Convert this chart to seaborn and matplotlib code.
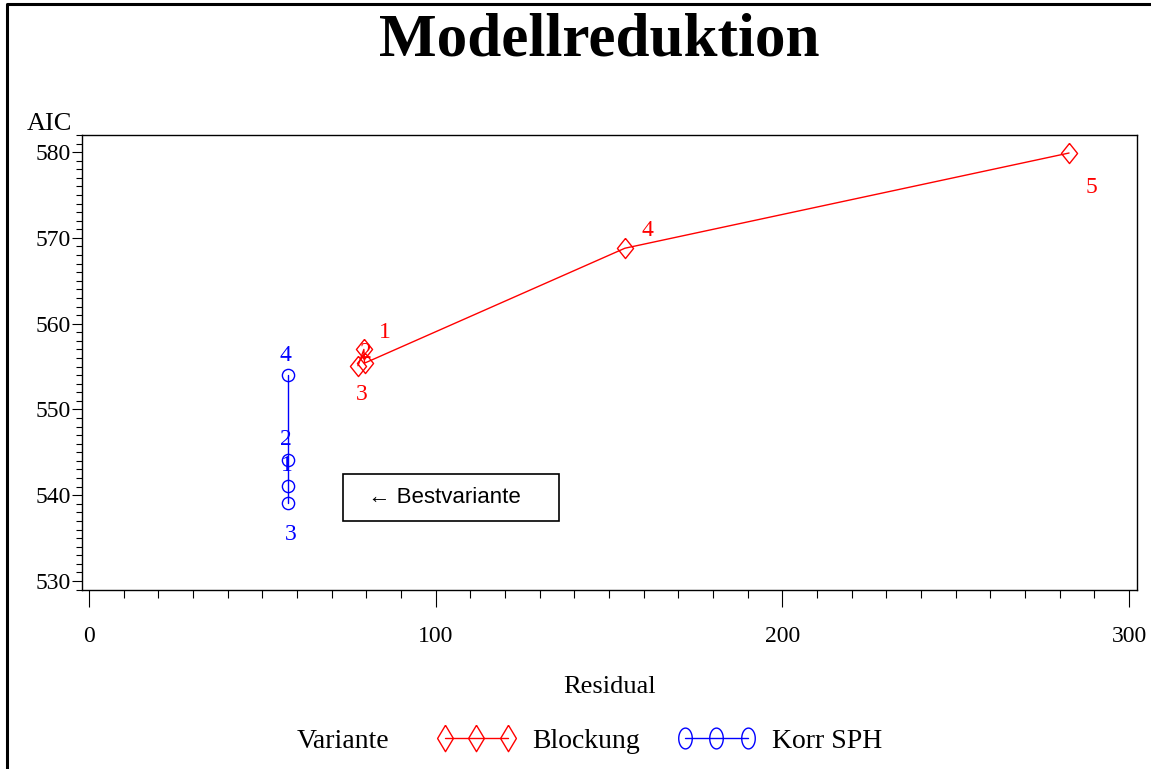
import numpy as np
import pandas as pd
import matplotlib
matplotlib.use("Agg")
import matplotlib.pyplot as plt
import seaborn as sns
from matplotlib.lines import Line2D
from matplotlib.ticker import MultipleLocator

# ---------------- data ----------------
title = "Modellreduktion"
legend_title = "Variante"
series_names = ["Blockung", "Korr SPH"]
block_labels = ["1", "2", "3", "4", "5"]
block_residual = [79.3, 79.5, 77.6, 154.6, 282.7]
block_aic = [557.0, 555.4, 555.1, 568.8, 579.9]
korr_labels = ["1", "2", "3", "4"]
korr_residual = [57.4, 57.4, 57.4, 57.4]
korr_aic = [541.1, 544.1, 539.1, 554.0]
x_ticks = [0, 100, 200, 300]
y_ticks = [530, 540, 550, 560, 570, 580]
x_label = "Residual"
y_label = "AIC"
note_text = "← Bestvariante"
note_pos = (104.4, 539.75)

# label offsets (points) for the point labels
block_offsets = [(15, 12), (1, 7.5), (3, -21), (16.5, 13), (16, -24.5)]
korr_offsets = [(-1, 14.5), (-1.5, 14.5), (2, -23), (-1.5, 14.5)]

# ---------------- style ----------------
sns.set_style("ticks")
plt.rcParams["font.family"] = ["Liberation Serif", "DejaVu Serif"]
for k in ["text.color", "axes.labelcolor", "xtick.color", "ytick.color", "axes.edgecolor"]:
    plt.rcParams[k] = "black"

W, H = 1151, 769
fig = plt.figure(figsize=(W / 100, H / 100), dpi=100)
ax = fig.add_axes([82 / W, 1 - 590 / H, (1137 - 82) / W, (590 - 135) / H])

df = pd.concat([
    pd.DataFrame({"Residual": block_residual, "AIC": block_aic,
                  "Variante": series_names[0], "lab": block_labels}),
    pd.DataFrame({"Residual": korr_residual, "AIC": korr_aic,
                  "Variante": series_names[1], "lab": korr_labels}),
], ignore_index=True)

diamond = [(0, 1), (0.8, 0), (0, -1), (-0.8, 0), (0, 1)]
diamond_leg = [(0, 1), (0.6, 0), (0, -1), (-0.6, 0), (0, 1)]
t = np.linspace(0, 2 * np.pi, 41)
ellipse_leg = list(zip(0.65 * np.cos(t), np.sin(t)))

colors = {series_names[0]: "#ff0000", series_names[1]: "#0000ff"}
markers = {series_names[0]: (diamond, 14.5), series_names[1]: ("o", 8.8)}

for name in series_names:
    sub = df[df["Variante"] == name]
    mk, ms = markers[name]
    sns.lineplot(data=sub, x="Residual", y="AIC", estimator=None, sort=True,
                 color=colors[name], marker=mk, markersize=ms,
                 mfc="none", mec=colors[name], mew=1.0, lw=1.0,
                 legend=False, ax=ax)

for lab, xv, yv, off in zip(block_labels, block_residual, block_aic, block_offsets):
    ax.annotate(lab, (xv, yv), xytext=off, textcoords="offset points",
                ha="center", va="center", color=colors[series_names[0]], fontsize=17)
for lab, xv, yv, off in zip(korr_labels, korr_residual, korr_aic, korr_offsets):
    ax.annotate(lab, (xv, yv), xytext=off, textcoords="offset points",
                ha="center", va="center", color=colors[series_names[1]], fontsize=17)

ax.text(note_pos[0], note_pos[1], "  " + note_text + "    ", ha="center", va="center",
        fontsize=16, family=["Liberation Sans", "DejaVu Sans"],
        bbox=dict(boxstyle="square,pad=0.6", fc="white", ec="black", lw=1.2))

ax.set_xlim(-2.0, 302.3)
ax.set_ylim(528.95, 582.0)
ax.set_xticks(x_ticks)
ax.set_yticks(y_ticks)
ax.xaxis.set_minor_locator(MultipleLocator(10))
ax.yaxis.set_minor_locator(MultipleLocator(1))
ax.tick_params(axis="x", which="major", length=12, width=0.8, pad=14, labelsize=17, direction="out")
ax.tick_params(axis="x", which="minor", length=6, width=0.8, direction="out")
ax.tick_params(axis="y", which="major", length=7, width=0.8, pad=1, labelsize=17, direction="out")
ax.tick_params(axis="y", which="minor", length=4, width=0.8, direction="out")
for s in ax.spines.values():
    s.set_visible(True)
    s.set_linewidth(1.0)
    s.set_color("black")

ax.set_xlabel(x_label, fontsize=19)
ax.xaxis.set_label_coords(0.5005, -0.213)
ax.xaxis.label.set_va("center")
ax.set_ylabel(y_label, fontsize=19, rotation=0, ha="center", va="center")
ax.yaxis.set_label_coords(-0.031, 1.024)

fig.text(599 / W, 1 - 40 / H, title, ha="center", va="center",
         fontsize=44, fontweight="bold")

# legend
fig.text(297 / W, 1 - 741 / H, legend_title, ha="left", va="center", fontsize=20)
h1 = Line2D([], [], color=colors[series_names[0]], marker=diamond_leg, markersize=19,
            mfc="none", mec=colors[series_names[0]], lw=1.0)
h2 = Line2D([], [], color=colors[series_names[1]], marker=ellipse_leg, markersize=15,
            mfc="none", mec=colors[series_names[1]], lw=1.0)
for h, name, xpx in [(h1, series_names[0], 437), (h2, series_names[1], 677)]:
    fig.legend([h], [name], loc="center left", bbox_to_anchor=(xpx / W, 1 - 741 / H),
               frameon=False, numpoints=3, handlelength=2.84, handletextpad=0.58,
               borderpad=0, borderaxespad=0, fontsize=20)

# outer border (left and top visible)
fig.add_artist(Line2D([7.5 / W, 7.5 / W, 1], [0, 1 - 4 / H, 1 - 4 / H],
                      transform=fig.transFigure, color="black", lw=2.2))

fig.savefig("out.png", dpi=100, facecolor="white")
